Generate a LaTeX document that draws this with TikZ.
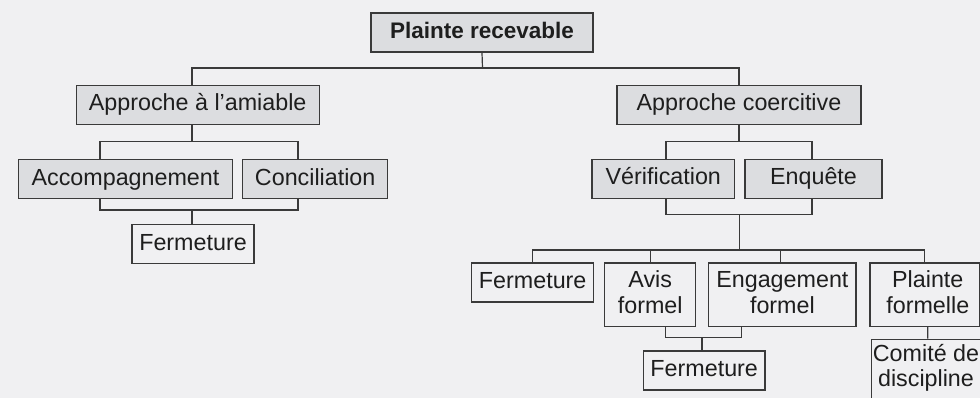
\documentclass[tikz,border=0pt]{standalone}
\usepackage{fontspec}
\setmainfont{Liberation Sans}
\definecolor{bg}{HTML}{F0F0F2}
\definecolor{boxgray}{HTML}{DCDDE0}
\definecolor{edge}{HTML}{3A3A3A}
\definecolor{ink}{HTML}{1E1E1E}
\tikzset{
  base/.style={draw=edge, line width=1.4pt, inner sep=0pt, text=ink,
    font=\fontsize{23.3}{25.5}\selectfont, text height=16.8pt, text depth=4.9pt, align=center},
  graybox/.style={base, fill=boxgray, minimum height=39pt},
  plainbox/.style={base, minimum height=39pt},
  twoline/.style={base, minimum height=63.3pt, text height=42.3pt, text depth=4.9pt},
  link/.style={draw=edge, line width=1.2pt},
}
\begin{document}
\begin{tikzpicture}[x=1pt,y=-1pt]
\path[use as bounding box, clip] (0,0) rectangle (980,398);
\fill[bg] (0,0) rectangle (980,398);

\node[graybox, minimum width=222pt, font=\bfseries\fontsize{22.5}{25}\selectfont] (root) at (482,32.5) {Plainte recevable};
\node[graybox, minimum width=243pt] (amiable) at (197.7,105) {Approche à l’amiable};
\node[graybox, minimum width=244pt] (coerc) at (739,105) {Approche coercitive};
\node[graybox, minimum width=213.6pt] (accomp) at (125.5,179.3) {Accompagnement};
\node[graybox, minimum width=145pt] (concil) at (315.2,179.3) {Conciliation};
\node[plainbox, minimum width=122pt] (ferm1) at (193,244.2) {Fermeture};
\node[graybox, minimum width=142.7pt] (verif) at (663.3,179) {Vérification};
\node[graybox, minimum width=137pt] (enq) at (813.5,179) {Enquête};
\node[plainbox, minimum width=122pt] (ferm2) at (532.7,282.5) {Fermeture};
\node[twoline, minimum width=91pt] (avis) at (650.2,294.7) {Avis\\formel};
\node[twoline, minimum width=147.3pt] (engag) at (782.4,294.7) {Engagement\\formel};
\node[twoline, minimum width=109.5pt] (plf) at (924.8,294.7) {\hspace*{6pt}Plainte\\\hspace*{6pt}formelle};
\node[plainbox, minimum width=121.7pt] (ferm3) at (704.2,370.5) {Fermeture};
\node[twoline, minimum width=109.5pt, minimum height=64pt, font=\fontsize{23.3}{25}\selectfont, text height=41.8pt, text depth=11pt] (comite) at (926,371.3) {Comité de\\discipline};

\coordinate (j0) at (482.5,68);
\coordinate (j1) at (192,141.3);
\coordinate (j2) at (192,210);
\coordinate (j3) at (739,141.3);
\coordinate (j4) at (739.3,214.7);
\coordinate (j5) at (739.3,250);
\coordinate (j6) at (702,337.3);

\draw[link] (root.south) -- (j0);
\draw[link] ([xshift=-5.7pt]amiable.north) |- (j0) -| (coerc.north);

\draw[link] ([xshift=-5.7pt]amiable.south) -- (j1);
\draw[link] ([xshift=-25.5pt]accomp.north) |- (j1) -| ([xshift=-17.2pt]concil.north);
\draw[link] ([xshift=-25.5pt]accomp.south) |- (j2) -| ([xshift=-17.2pt]concil.south);
\draw[link] (j2) -- ([xshift=-1pt]ferm1.north);

\draw[link] (coerc.south) -- (j3);
\draw[link] ([xshift=2.7pt]verif.north) |- (j3) -| ([xshift=-1.5pt]enq.north);
\draw[link] ([xshift=2.7pt]verif.south) |- (j4) -| ([xshift=-1.5pt]enq.south);
\draw[link] (j4) -- (j5);
\draw[link] (ferm2.north) |- (j5) -| (plf.north);
\draw[link] (avis.north) -- ++(0,-13);
\draw[link] ([xshift=-2pt]engag.north) -- ++(0,-13);

\draw[link] ([xshift=15.5pt]avis.south) |- (j6) -| ([xshift=-40.9pt]engag.south);
\draw[link] (j6) -- ([xshift=-2.2pt]ferm3.north);
\draw[link] ([xshift=3pt]plf.south) -- ([xshift=1.7pt]comite.north);
\end{tikzpicture}
\end{document}
